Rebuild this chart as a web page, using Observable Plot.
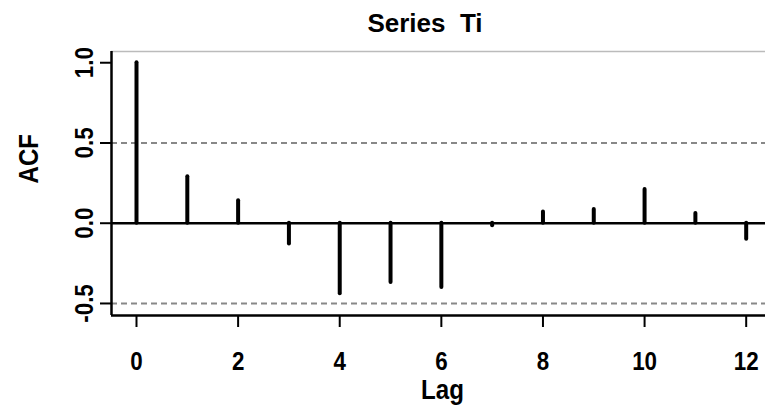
<!DOCTYPE html>
<html><head><meta charset="utf-8">
<script src="https://cdn.jsdelivr.net/npm/d3@7"></script>
<script src="https://cdn.jsdelivr.net/npm/@observablehq/plot@0.6"></script>
<style>
body{margin:0;background:#fff;font-family:"Liberation Sans",Arial,sans-serif;}
#title{position:relative;height:40px;width:765px;overflow:visible;}
#title span{position:absolute;left:0;width:850px;text-align:center;top:9.7px;font-size:26px;line-height:26px;font-weight:bold;white-space:pre;color:#000;}
</style></head><body>
<div id="title"><span id="titleText"></span></div>
<div id="chart"></div>
<script>
const titleText = "Series  Ti";
const lags = [0, 1, 2, 3, 4, 5, 6, 7, 8, 9, 10, 11, 12];
const acfValues = [1.0, 0.29, 0.14, -0.13, -0.44, -0.37, -0.40, -0.015, 0.07, 0.085, 0.21, 0.06, -0.10];
const confBounds = [0.5, -0.5];
const xTicks = [0, 2, 4, 6, 8, 10, 12];
const yTicks = [-0.5, 0, 0.5, 1];
const xDomain = [-0.492, 12.38];
const yDomain = [-0.575, 1.07];
const xLabel = "Lag";
const yLabel = "ACF";

document.getElementById("titleText").textContent = titleText;
const data = lags.map((lag, i) => ({lag, acf: acfValues[i]}));

const chart = Plot.plot({
  width: 765, height: 368,
  marginLeft: 111, marginRight: 0, marginTop: 11, marginBottom: 93,
  style: {fontFamily: "'Liberation Sans', Arial, sans-serif", fontWeight: "bold", fontSize: "26px", color: "#000", background: "#fff", overflow: "visible"},
  x: {domain: xDomain},
  y: {domain: yDomain},
  marks: [
    Plot.ruleY([yDomain[1]], {stroke: "#bbb", strokeWidth: 1.5}),
    Plot.ruleY(confBounds, {stroke: "#888", strokeWidth: 2, strokeDasharray: "6,4"}),
    Plot.ruleY([0], {stroke: "#000", strokeWidth: 2.5}),
    Plot.ruleX(data, {x: "lag", y1: 0, y2: "acf", stroke: "#000", strokeWidth: 4, strokeLinecap: "round"}),
    Plot.ruleX([xDomain[0]], {stroke: "#000", strokeWidth: 2.5}),
    Plot.ruleY([yDomain[0]], {stroke: "#000", strokeWidth: 2.5}),
    Plot.axisX({ticks: xTicks, tickSize: 12, tickPadding: 24, tickFormat: d => String(d), label: null, strokeWidth: 2, fontSize: 26}),
    Plot.axisY({ticks: yTicks, tickSize: 11, tickPadding: 8, tickRotate: -90, tickFormat: d => d.toFixed(1), label: null, strokeWidth: 2, fontSize: 26}),
    Plot.text([xLabel], {text: d => d, frameAnchor: "bottom", lineAnchor: "bottom", dy: 83, dx: 4, fontSize: 28, fontWeight: "bold"}),
    Plot.text([yLabel], {text: d => d, frameAnchor: "left", rotate: -90, lineAnchor: "bottom", dx: -74, dy: 0, fontSize: 28, fontWeight: "bold"})
  ]
});
document.getElementById("chart").appendChild(chart);
// condense the glyphs horizontally, like the narrow bold face of the reference
d3.select(chart).selectAll("text").each(function () {
  const w = this.getComputedTextLength();
  if (w > 0) {
    this.setAttribute("textLength", (w * 0.86).toFixed(2));
    this.setAttribute("lengthAdjust", "spacingAndGlyphs");
  }
});
</script>
</body></html>
